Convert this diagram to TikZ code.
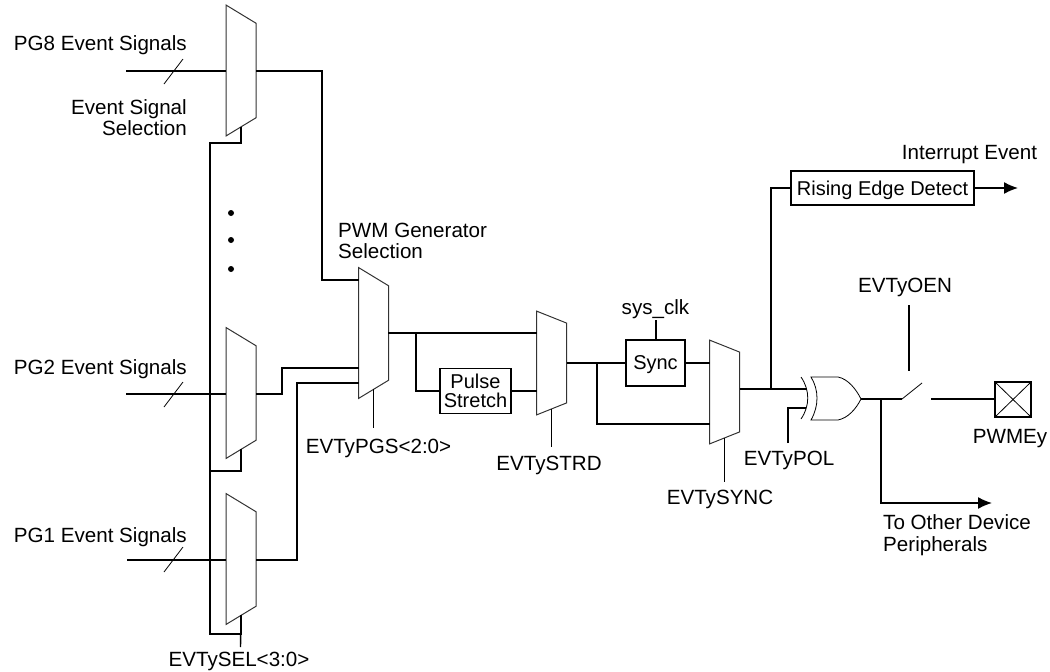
\documentclass[tikz,border=0pt]{standalone}
\usepackage{fontspec}
\setmainfont{Liberation Sans}
\usepackage{xcolor}
\usepackage{tikz}
\usetikzlibrary{arrows.meta,positioning,calc,shapes.geometric}
\definecolor{MuxEdge}{HTML}{333333}

\begin{document}
\begin{tikzpicture}[
  x=1pt,y=-1pt,
  font=\fontsize{20.6}{21.7}\selectfont,
  mux/.style={draw=MuxEdge,line width=1pt,fill=white,inner sep=0pt,outer sep=0pt,
    trapezium,trapezium stretches=true,trapezium angle=78.5,shape border rotate=270,
    minimum width=131pt,minimum height=30pt},
  muxs/.style={mux,minimum width=104pt,trapezium angle=81},
  box/.style={draw,line width=1.4pt,inner sep=0pt,outer sep=0pt,align=center,
    font=\fontsize{20}{21.5}\selectfont},
  lbl/.style={inner sep=0pt,align=left},
  wire/.style={line width=1.4pt},
  thinw/.style={line width=0.8pt},
  arrow/.style={wire,-{Latex[length=14pt,width=12pt]}}
]
  \useasboundingbox (0,0) rectangle (1050,672);

  % multiplexers
  \node[mux] (pg8mux) at (241,70.5) {\phantom{x}};
  \node[mux] (pg2mux) at (241,393) {\phantom{x}};
  \node[mux] (pg1mux) at (241,559) {\phantom{x}};
  \node[mux] (pgsmux) at (373.5,333) {\phantom{x}};
  \node[muxs] (strdmux) at (551.5,363) {\phantom{x}};
  \node[muxs] (syncmux) at (724.5,392) {\phantom{x}};

  % boxes
  \node[box,minimum width=71pt,minimum height=45pt] (pulse) at (475.5,391) {Pulse\\[-2pt]Stretch};
  \node[box,text depth=0pt,minimum width=59pt,minimum height=46pt] (sync) at (655.5,363) {Sync};
  \node[box,text depth=0pt,minimum width=183pt,minimum height=34pt] (rising) at (882.5,188) {Rising Edge Detect};
  \node[box,minimum width=36pt,minimum height=35pt] (pwm) at (1013,399.5) {};
  \draw[thinw] (pwm.north west) -- (pwm.south east);
  \draw[thinw] (pwm.north east) -- (pwm.south west);

  % labels
  \node[lbl,left] (pg8lbl) at (187,45) {PG8 Event Signals};
  \node[lbl,left,align=right] (sellbl) at (187,117.5) {Event Signal\\Selection};
  \node[lbl,left] (pg2lbl) at (187,369) {PG2 Event Signals};
  \node[lbl,left] (pg1lbl) at (187,537) {PG1 Event Signals};
  \node[lbl] (evtsel) at (239,661) {EVTySEL<3:0>};
  \node[lbl,right] (pwmgen) at (338,241) {PWM Generator\\Selection};
  \node[lbl] (evtpgs) at (378.5,448) {EVTyPGS<2:0>};
  \node[lbl] (evtstrd) at (549,465) {EVTySTRD};
  \node[lbl] (sysclk) at (655.5,309) {sys\_clk};
  \node[lbl] (evtsyncl) at (720,499) {EVTySYNC};
  \node[lbl] (evtpol) at (789,460) {EVTyPOL};
  \node[lbl] (evtoen) at (905,287) {EVTyOEN};
  \node[lbl] (intevt) at (969.5,155) {Interrupt Event};
  \node[lbl] (pwmlbl) at (1010,439) {PWMEy};
  \node[lbl,right] (tootherlbl) at (883,535.5) {To Other Device\\Peripherals};

  % free ends
  \coordinate (pg8in) at (126,71);
  \coordinate (pg2in) at (126,394);
  \coordinate (pg1in) at (127,560);
  \coordinate (pg8go) at (322,280);
  \coordinate (pg2go) at (282,368);
  \coordinate (pg1go) at (297,383);
  \coordinate (bustop) at (210,143);
  \coordinate (busbot) at (210,634);
  \coordinate (pg2bus) at (209,471);
  \coordinate (selend) at (240.5,647);
  \coordinate (pgsend) at (373.5,428);
  \coordinate (strdend) at (551.5,447);
  \coordinate (syncend) at (724.5,482);
  \coordinate (pgsout) at (388,333);
  \coordinate (pulsetap) at (416,333);
  \coordinate (strdtap) at (597,363);
  \coordinate (syncin) at (710,424);
  \coordinate (synctop) at (656,320);
  \coordinate (synctap) at (771,389);
  \coordinate (risingout) at (1018,188);
  \coordinate (xorout) at (861,399);
  \coordinate (polend) at (788,443);
  \coordinate (swopen) at (922,383);
  \coordinate (swhinge) at (902,399);
  \coordinate (swright) at (931,399);
  \coordinate (oentop) at (909,305);
  \coordinate (oenend) at (909,371);
  \coordinate (othertap) at (881,399);
  \coordinate (otherend) at (992,503);

  % xor gate
  \draw[thinw] (801,377) .. controls (810,390) and (810,406) .. (801,419);
  \draw[thinw] (811,377) .. controls (819,390) and (819,406) .. (811,420)
    -- (838,420) .. controls (848,418) and (856,409) .. (xorout)
    .. controls (856,389) and (848,379) .. (838,377) -- cycle;

  % inputs with bus slashes
  \draw[wire] (pg8in) -- (pg8in -| pg8mux.west);
  \draw[wire] (pg2in) -- (pg2in -| pg2mux.west);
  \draw[wire] (pg1in) -- (pg1in -| pg1mux.west);
  \draw[thinw] (164,84) -- (183,59);
  \draw[thinw] (164,407) -- (183,382);
  \draw[thinw] (164,572) -- (183,547);

  % selection bus
  \draw[wire] (pg8mux.right side) |- (bustop) -- (busbot) -| (pg1mux.right side);
  \draw[wire] (pg1mux.right side) -- (selend);
  \draw[wire] (pg2mux.right side) |- (pg2bus);

  % into generator selection
  \draw[wire] (pg8in -| pg8mux.east) -| (pg8go) -- (pg8go -| pgsmux.west);
  \draw[wire] (pg2in -| pg2mux.east) -| (pg2go) -- (pg2go -| pgsmux.west);
  \draw[wire] (pg1in -| pg1mux.east) -| (pg1go) -- (pg1go -| pgsmux.west);
  \draw[wire] (pgsmux.right side) -- (pgsend);

  % stretch and sync
  \draw[wire] (pgsout) -- (pgsout -| strdmux.west);
  \draw[wire] (pulsetap) |- (pulse.west);
  \draw[wire] (pulse.east) -- (pulse.east -| strdmux.west);
  \draw[wire] (strdmux.right side) -- (strdend);
  \draw[wire] (sync.west -| strdmux.east) -- (sync.west);
  \draw[wire] (sync.east) -- (sync.east -| syncmux.west);
  \draw[wire] (strdtap) |- (syncin);
  \draw[wire] (sync.north -| synctop) -- (synctop);
  \draw[wire] (syncmux.right side) -- (syncend);

  % outputs
  \draw[wire] (synctap -| syncmux.east) -- (807,389);
  \draw[wire] (synctap) |- (rising.west);
  \draw[arrow] (rising.east) -- (risingout);
  \draw[wire] (polend) |- (806,408);
  \draw[wire] (xorout) -- (swhinge);
  \draw[thinw] (swhinge) -- (swopen);
  \draw[wire] (swright) -- (swright -| pwm.west);
  \draw[wire] (oentop) -- (oenend);
  \draw[arrow] (othertap) |- (otherend);

  % dots
  \fill (231,213) circle (3);
  \fill (231,240) circle (3);
  \fill (231,269) circle (3);
\end{tikzpicture}
\end{document}
